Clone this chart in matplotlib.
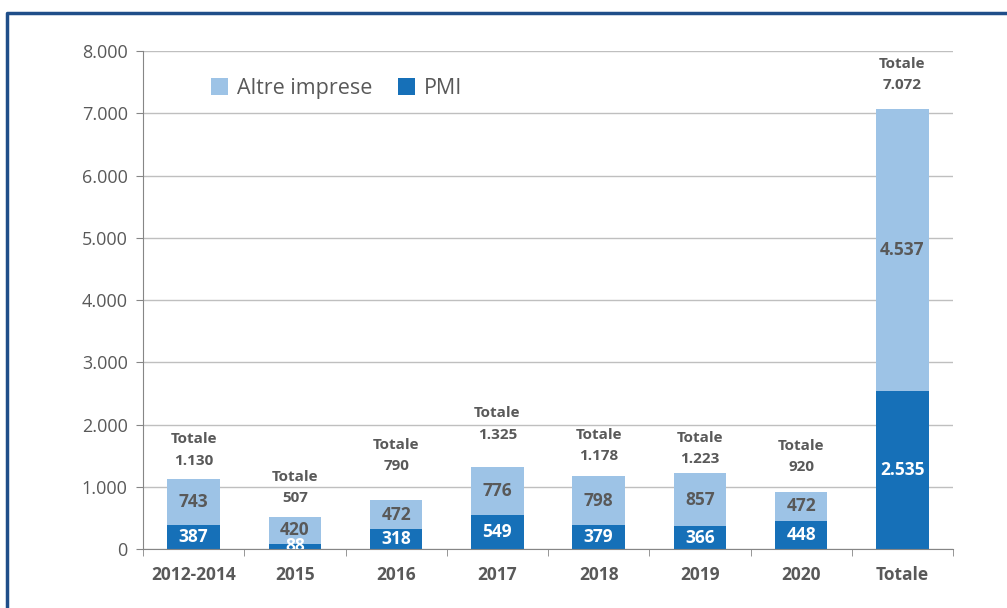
import matplotlib
matplotlib.use("Agg")
import matplotlib.pyplot as plt
from matplotlib.lines import Line2D
from matplotlib.ticker import FuncFormatter, MultipleLocator
import numpy as np

plt.rcParams['font.family'] = ['Open Sans', 'DejaVu Sans']

categories = ['2012-2014', '2015', '2016', '2017', '2018', '2019', '2020', 'Totale']
pmi = [387, 88, 318, 549, 379, 366, 448, 2535]
altre = [743, 420, 472, 776, 798, 857, 472, 4537]
totale = [1130, 507, 790, 1325, 1178, 1223, 920, 7072]

# vertical gap (points) between bar top and the "Totale" label, as in the original
label_gap = [8, 9, 19, 18, 9, 5, 13, 12]

light = '#9dc3e6'
dark = '#1670b8'
grey = '#595959'

def it(v):
    return f'{v:,.0f}'.replace(',', '.')

fig = plt.figure(figsize=(10.07, 6.08), dpi=100)
ax = fig.add_axes([0.142, 0.097, 0.8044, 0.8191])

x = np.arange(len(categories))
w = 0.52
ax.bar(x, altre, w, bottom=pmi, color=light, label='Altre imprese', zorder=2)
ax.bar(x, pmi, w, color=dark, label='PMI', zorder=2)

for i in range(len(categories)):
    ax.text(x[i], pmi[i] / 2, it(pmi[i]), ha='center', va='center', color='white',
            fontsize=12.5, fontweight='bold', zorder=3, clip_on=True)
    ax.text(x[i], pmi[i] + altre[i] / 2, it(altre[i]), ha='center', va='center', color=grey,
            fontsize=12.5, fontweight='bold', zorder=3)
    ax.annotate('Totale\n' + it(totale[i]), (x[i], totale[i]), xytext=(0, label_gap[i]),
                textcoords='offset points', ha='center', va='bottom', color=grey,
                fontsize=11, fontweight='bold', linespacing=1.65)

ax.set_ylim(0, 8000)
ax.set_xlim(-0.5, len(categories) - 0.5)
ax.yaxis.set_major_locator(MultipleLocator(1000))
ax.yaxis.set_major_formatter(FuncFormatter(lambda v, p: it(v)))
ax.grid(axis='y', color='#bfbfbf', lw=1, zorder=0)
ax.set_axisbelow(True)

ax.set_xticks(x)
ax.set_xticklabels(categories, fontweight='bold', color=grey, fontsize=12.5)
ax.set_xticks(np.arange(-0.5, len(categories)), minor=True)
ax.tick_params(axis='x', which='major', length=0, pad=12)
ax.tick_params(axis='x', which='minor', length=5, color='#868686')
ax.tick_params(axis='y', length=5, color='#868686', labelcolor=grey, labelsize=13, pad=6)

for s in ['top', 'right']:
    ax.spines[s].set_visible(False)
for s in ['left', 'bottom']:
    ax.spines[s].set_color('#868686')

leg = ax.legend(loc='upper left', bbox_to_anchor=(0.06, 0.985), ncol=2, frameon=False,
                fontsize=15.5, handlelength=0.8, handleheight=0.8, handletextpad=0.4,
                columnspacing=1.2, labelcolor=grey)

# outer frame (left and top edges visible in the original crop)
y_top = 1 - 13 / 608
x_left = 7 / 1007
fig.add_artist(Line2D([x_left, x_left, 1.0], [0.0, y_top, y_top],
                      transform=fig.transFigure, color='#1f4e89', lw=2.5))

fig.savefig('out.png', dpi=100)
